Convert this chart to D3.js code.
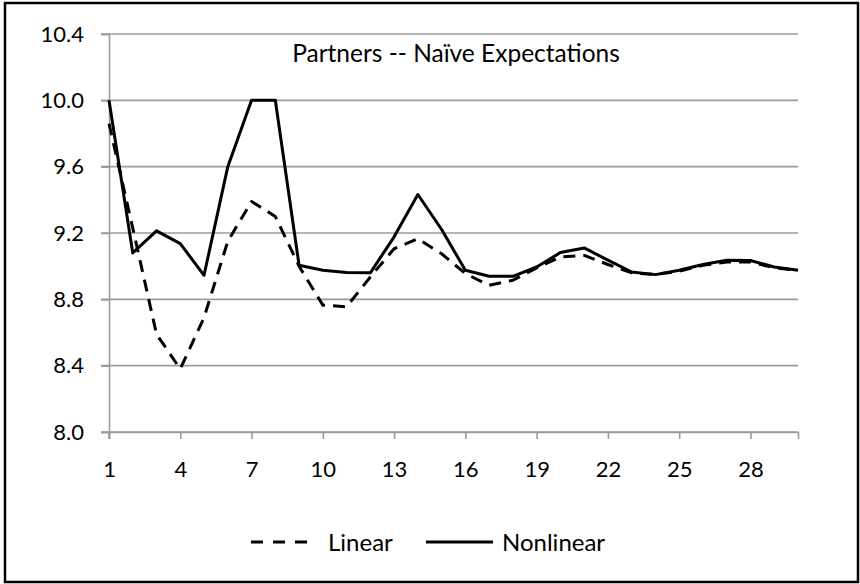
<!doctype html>
<html>
<head>
  <meta charset="utf-8" />
  <title>Partners -- Naïve Expectations</title>
  <script src="https://d3js.org/d3.v7.min.js"></script>
  <style>
    body { margin: 0; background: #fff; }
    svg { display: block; }
    text { font-family: Lato, "Open Sans", sans-serif; fill: #000; }
  </style>
</head>
<body>
  <svg></svg>
  <script>
    var width = 860,
      height = 584;

    // periods 1..30
    var periods = d3.range(1, 31);

    var linear = [9.86, 9.23, 8.59, 8.38, 8.69, 9.15, 9.39, 9.30, 9.00, 8.765,
      8.755, 8.935, 9.105, 9.165, 9.075, 8.955, 8.885, 8.915, 8.99, 9.055,
      9.065, 9.01, 8.96, 8.95, 8.97, 9.005, 9.025, 9.025, 8.99, 8.975];

    var nonlinear = [10.0, 9.08, 9.213, 9.136, 8.945, 9.60, 10.0, 10.0, 9.006, 8.975,
      8.962, 8.960, 9.177, 9.432, 9.221, 8.975, 8.939, 8.939, 8.995, 9.082,
      9.110, 9.036, 8.965, 8.949, 8.975, 9.01, 9.036, 9.034, 8.995, 8.975];

    var yTicks = [8.0, 8.4, 8.8, 9.2, 9.6, 10.0, 10.4];
    var xTicks = [1, 4, 7, 10, 13, 16, 19, 22, 25, 28];

    var svg = d3.select("svg").attr("width", width).attr("height", height);

    // outer frame
    svg.append("rect")
      .attr("x", 5).attr("y", 3)
      .attr("width", 853).attr("height", 579)
      .attr("fill", "none")
      .attr("stroke", "#000")
      .attr("stroke-width", 2.5);

    var x = d3.scaleLinear().domain([1, 30]).range([109, 798]),
      y = d3.scaleLinear().domain([8.0, 10.4]).range([432, 34]);

    // gridlines
    svg.append("g")
      .selectAll("line")
      .data(yTicks)
      .enter()
      .append("line")
      .attr("x1", 101).attr("x2", x(30))
      .attr("y1", function(d) { return y(d); })
      .attr("y2", function(d) { return y(d); })
      .attr("stroke", "#9c9c9c")
      .attr("stroke-width", 1.6);

    // y axis
    var yAxis = svg.append("g")
      .attr("transform", "translate(" + x(1) + ",0)")
      .call(d3.axisLeft(y).tickValues(yTicks).tickSize(8).tickPadding(17)
        .tickFormat(d3.format(".1f")));

    // x axis
    var xAxis = svg.append("g")
      .attr("transform", "translate(0," + y(8.0) + ")")
      .call(d3.axisBottom(x).tickValues(xTicks).tickSize(7).tickPadding(22));

    [yAxis, xAxis].forEach(function(g) {
      g.select(".domain").attr("stroke", "#9c9c9c").attr("stroke-width", 1.6);
      g.selectAll(".tick line").attr("stroke", "#9c9c9c").attr("stroke-width", 1.6);
      g.selectAll(".tick text")
        .style("font-family", "Lato, sans-serif")
        .style("font-size", "22px")
        .attr("fill", "#000");
    });
    // extend the y axis down to the tick under x = 1
    svg.append("line")
      .attr("x1", x(1)).attr("x2", x(1))
      .attr("y1", y(8.0)).attr("y2", y(8.0) + 7)
      .attr("stroke", "#9c9c9c").attr("stroke-width", 1.6);

    var line = d3.line()
      .x(function(d, i) { return x(periods[i]); })
      .y(function(d) { return y(d); });

    svg.append("path")
      .datum(linear)
      .attr("d", line)
      .attr("fill", "none")
      .attr("stroke", "#000")
      .attr("stroke-width", 3)
      .attr("stroke-dasharray", "12,8")
      .attr("stroke-linejoin", "round");

    svg.append("path")
      .datum(nonlinear)
      .attr("d", line)
      .attr("fill", "none")
      .attr("stroke", "#000")
      .attr("stroke-width", 3)
      .attr("stroke-linejoin", "round");

    // title
    svg.append("text")
      .attr("x", 456)
      .attr("y", 62)
      .attr("text-anchor", "middle")
      .style("font-size", "24.5px")
      .text("Partners -- Naïve Expectations");

    // legend
    var legend = svg.append("g");
    legend.append("line")
      .attr("x1", 251).attr("x2", 308)
      .attr("y1", 542).attr("y2", 542)
      .attr("stroke", "#000").attr("stroke-width", 3)
      .attr("stroke-dasharray", "12,10");
    legend.append("text")
      .attr("x", 328).attr("y", 551)
      .style("font-size", "24px")
      .text("Linear");
    legend.append("line")
      .attr("x1", 426).attr("x2", 493)
      .attr("y1", 542).attr("y2", 542)
      .attr("stroke", "#000").attr("stroke-width", 3);
    legend.append("text")
      .attr("x", 502).attr("y", 551)
      .style("font-size", "24px")
      .text("Nonlinear");
  </script>
</body>
</html>
